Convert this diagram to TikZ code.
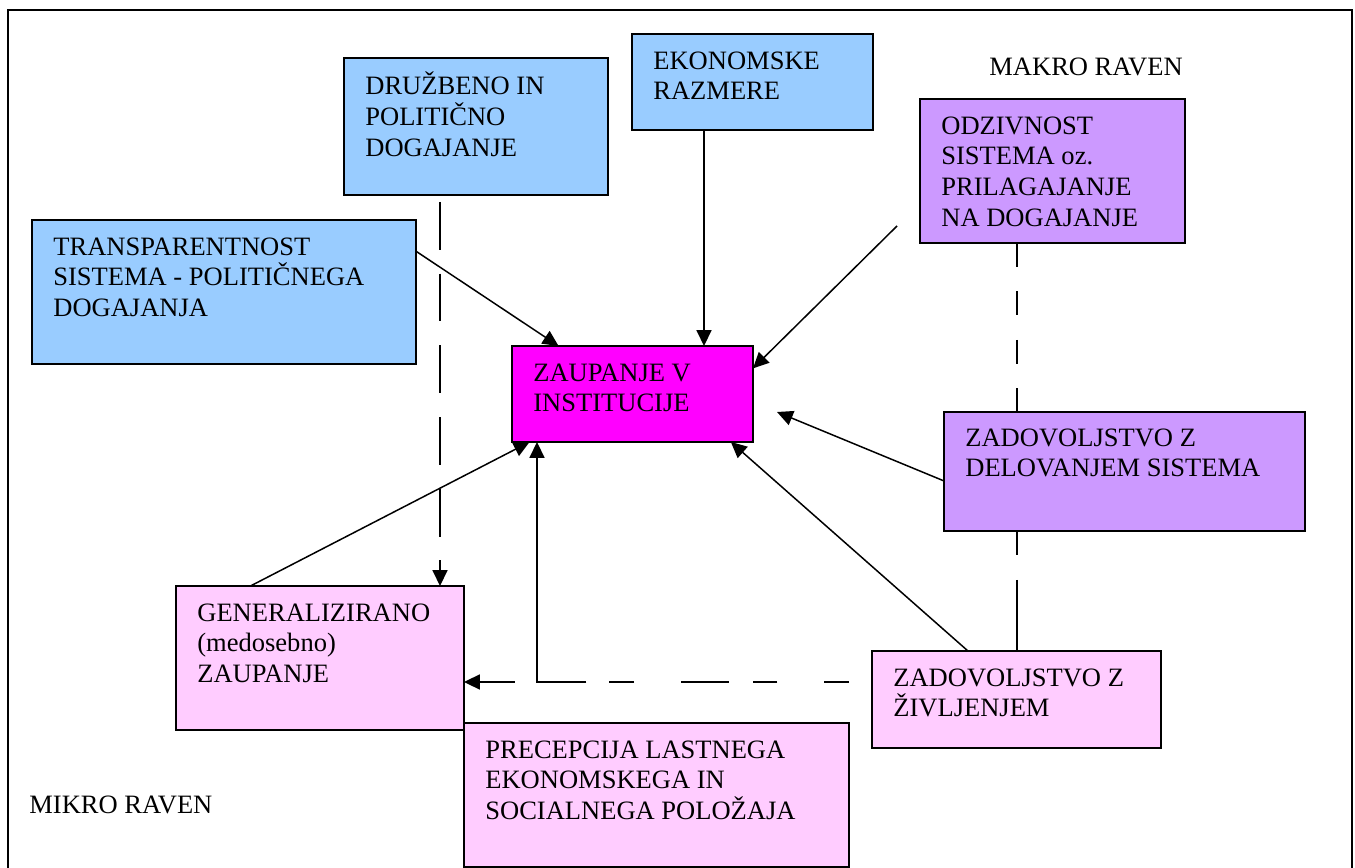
\documentclass[tikz,border=0pt]{standalone}
\usepackage{fontspec}
\setmainfont{Liberation Serif}
\usetikzlibrary{arrows.meta}
\definecolor{lblue}{HTML}{99CCFF}
\definecolor{magen}{HTML}{FF00FF}
\definecolor{lpurple}{HTML}{CC99FF}
\definecolor{lpink}{HTML}{FFCCFF}
\newcommand{\fl}{\rule{0pt}{12pt}}
\tikzset{
  boxnode/.style={draw=black, line width=1.1pt, rectangle, inner sep=0pt, outer sep=0pt, anchor=north west},
  txt/.style={inner sep=0pt, align=left, anchor=north west, font=\fontsize{15.1}{17.5}\selectfont},
  conn/.style={line width=0.85pt, -{Triangle[length=9pt,width=8.5pt]}},
  plain/.style={line width=0.85pt},
}
\begin{document}
\begin{tikzpicture}[x=0.02cm, y=-0.02cm]
\useasboundingbox (0,0) rectangle (1355,868);
\draw[line width=0.85pt] (8,10) rectangle (1352,920);

% boxes
\node[boxnode, fill=lblue, minimum width=5.28cm, minimum height=2.74cm] (druz) at (344,58) {};
\node[boxnode, fill=lblue, minimum width=4.82cm, minimum height=1.92cm] (ekon) at (632,34) {};
\node[boxnode, fill=lblue, minimum width=7.68cm, minimum height=2.88cm] (trans) at (32,220) {};
\node[boxnode, fill=magen, minimum width=4.82cm, minimum height=1.92cm] (zaup) at (512,346) {};
\node[boxnode, fill=lpurple, minimum width=5.30cm, minimum height=2.88cm] (odziv) at (920,99) {};
\node[boxnode, fill=lpurple, minimum width=7.22cm, minimum height=2.38cm] (delov) at (944,412) {};
\node[boxnode, fill=lpink, minimum width=5.78cm, minimum height=1.94cm] (zivlj) at (872,651) {};
\node[boxnode, fill=lpink, minimum width=5.76cm, minimum height=2.88cm] (gener) at (176,586) {};
\node[boxnode, fill=lpink, minimum width=7.70cm, minimum height=2.88cm] (prec) at (464,723) {};

% texts (first baseline 35px below the box top, 21px from its left)
\node[txt] (tdruz) at ([shift={(21,13.8)}]druz.north west) {\fl DRUŽBENO IN\\POLITIČNO\\DOGAJANJE};
\node[txt] (tekon) at ([shift={(21,13.8)}]ekon.north west) {\fl EKONOMSKE\\RAZMERE};
\node[txt] (ttrans) at ([shift={(21,13.8)}]trans.north west) {\fl TRANSPARENTNOST\\SISTEMA - POLITIČNEGA\\DOGAJANJA};
\node[txt] (tzaup) at ([shift={(21,13.8)}]zaup.north west) {\fl ZAUPANJE V\\INSTITUCIJE};
\node[txt] (todziv) at ([shift={(21,13.8)}]odziv.north west) {\fl ODZIVNOST\\SISTEMA oz.\\PRILAGAJANJE\\NA DOGAJANJE};
\node[txt] (tdelov) at ([shift={(21,12.8)}]delov.north west) {\fl ZADOVOLJSTVO Z\\DELOVANJEM SISTEMA};
\node[txt] (tzivlj) at ([shift={(21,13.8)}]zivlj.north west) {\fl ZADOVOLJSTVO Z\\ŽIVLJENJEM};
\node[txt] (tgener) at ([shift={(21,13.8)}]gener.north west) {\fl GENERALIZIRANO\\(medosebno)\\ZAUPANJE};
\node[txt] (tprec) at ([shift={(21,13.8)}]prec.north west) {\fl PRECEPCIJA LASTNEGA\\EKONOMSKEGA IN\\SOCIALNEGA POLOŽAJA};
\node[txt] (makro) at (989,53.8) {\fl MAKRO RAVEN};
\node[txt] (mikro) at (29,791.8) {\fl MIKRO RAVEN};

% free ends
\coordinate (c1) at (897,226);
\coordinate (c2) at (777,412);
\coordinate (e1) at (585,682);
\coordinate (e2) at (537,682);
\coordinate (vx) at (704,0);

% solid connectors
\draw[conn] (trans.12.3) -- (zaup.147.6);
\draw[conn] (ekon.south -| vx) -- (zaup.north -| vx);
\draw[conn] (c1) -- (zaup.12.2);
\draw[conn] (delov.183.3) -- (c2);
\draw[conn] (zivlj.135) -- (zaup.-26.2);
\draw[conn] (gener.134.2) -- (zaup.205.6);
\draw[conn] (e1) -- (e2) -- (e2 |- zaup.south);

% dashed connectors
\coordinate (d1) at ([shift={(96,7)}]druz.south west);
\draw[conn, dash pattern=on 27.2pt off 13.6pt] (d1) -- (d1 |- gener.north);
\coordinate (d2) at ([shift={(97,0)}]odziv.south west);
\draw[plain, dash pattern=on 13.6pt off 14pt] (d2) -- (d2 |- delov.north);
\coordinate (d3) at (d2 |- delov.south);
\draw[plain, dash pattern=on 13.6pt off 14.2pt on 40.3pt off 5pt] (d3) -- (d3 |- zivlj.north);
\coordinate (d4) at ([shift={(0,31)}]zivlj.north west);
\draw[conn, dash pattern=on 14.2pt off 26.6pt on 14.2pt off 13.6pt on 27.2pt off 26.6pt on 14.2pt off 13pt on 27.2pt off 13.6pt on 40pt off 13pt, dash phase=230.4pt] (d4) -- (d4 -| gener.east);
\end{tikzpicture}
\end{document}
